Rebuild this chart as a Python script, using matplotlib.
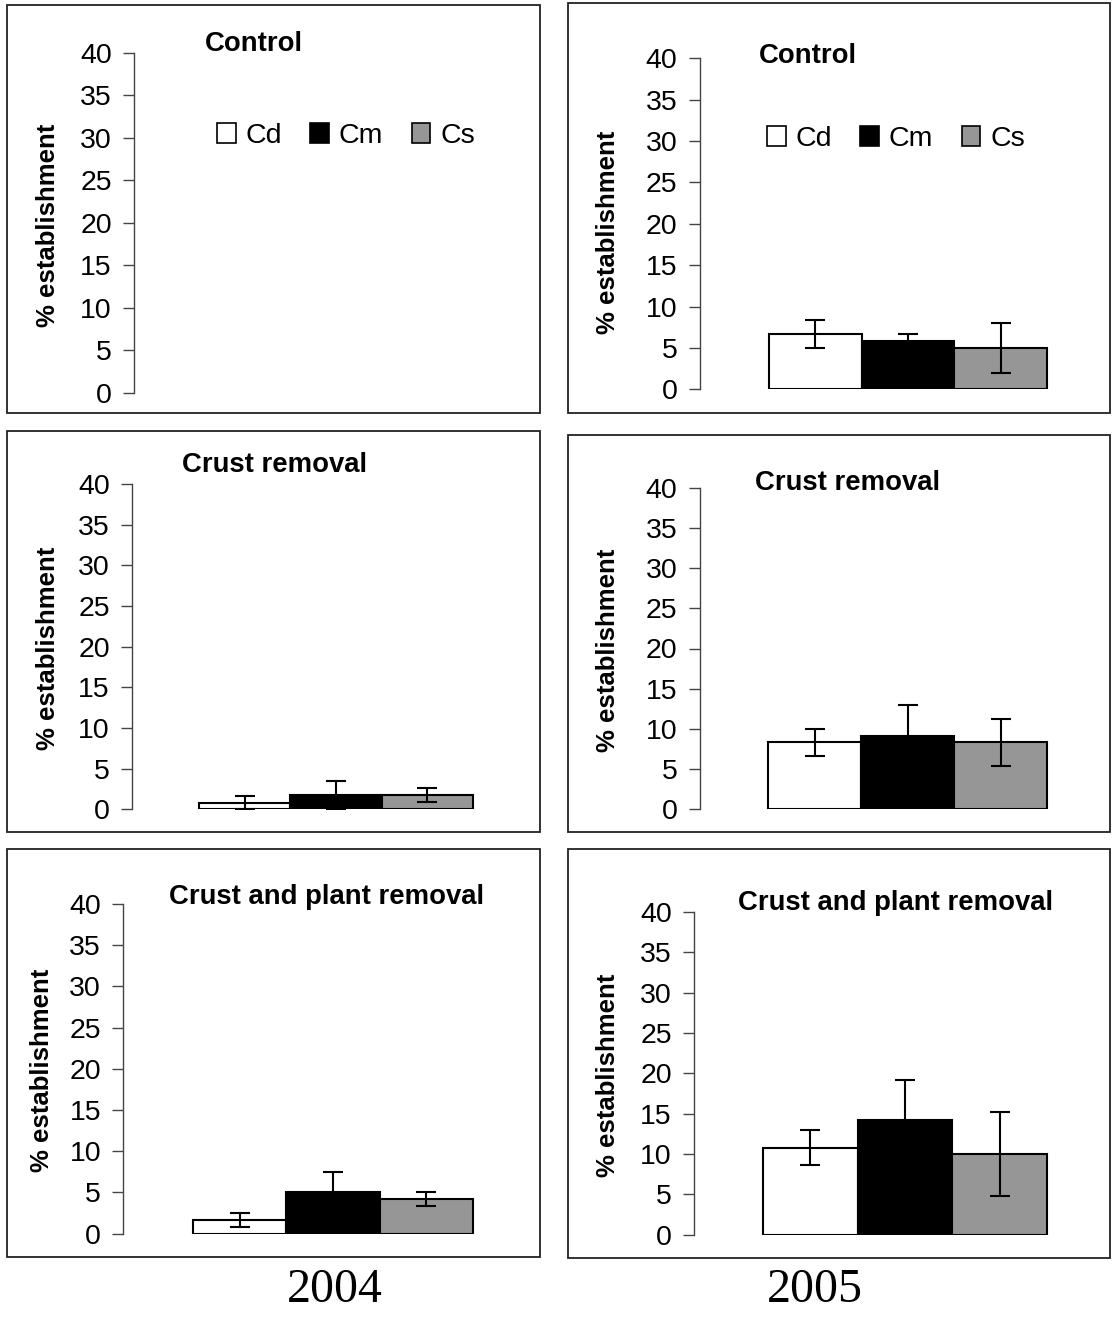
import matplotlib
matplotlib.use("Agg")
import matplotlib.pyplot as plt
from matplotlib.patches import Rectangle, Patch

plt.rcParams["font.family"] = ["Liberation Sans", "DejaVu Sans"]

# data
species = ["Cd", "Cm", "Cs"]
bar_colors = ["white", "black", "#969696"]

ctrl_2004 = []
ctrl_2004_err = []
ctrl_2005 = [6.7, 5.8, 5.0]
ctrl_2005_err = [1.7, 0.9, 3.0]

crust_2004 = [0.83, 1.75, 1.75]
crust_2004_err = [0.83, 1.75, 0.85]
crust_2005 = [8.3, 9.1, 8.3]
crust_2005_err = [1.7, 3.8, 2.9]

plant_2004 = [1.67, 5.0, 4.17]
plant_2004_err = [0.83, 2.5, 0.83]
plant_2005 = [10.8, 14.2, 10.0]
plant_2005_err = [2.2, 5.0, 5.2]

titles = ["Control", "Crust removal", "Crust and plant removal"]
years = ["2004", "2005"]
yticks = [0, 5, 10, 15, 20, 25, 30, 35, 40]

W, H = 1112, 1319
fig = plt.figure(figsize=(W / 100, H / 100), dpi=100)


def fx(px):
    return px / W


def fy(py):
    return 1 - py / H


# layout in pixels: frame box, y-axis x, y of 40 and 0, bar group extent,
# title centre, ylabel centre
panels = [
    dict(vals=ctrl_2004, err=ctrl_2004_err, title=titles[0],
         frame=(7, 5, 540, 413), ax_x=134, y40=52.7, y0=392.7, bars=(199, 473),
         tpos=(254, 44), lpos=(48, 225), legend=(346, 136)),
    dict(vals=ctrl_2005, err=ctrl_2005_err, title=titles[0],
         frame=(568, 3, 1110, 413), ax_x=699.5, y40=58.3, y0=389.3, bars=(769, 1047),
         tpos=(808, 56), lpos=(608, 232), legend=(896, 139)),
    dict(vals=crust_2004, err=crust_2004_err, title=titles[1],
         frame=(7, 431, 540, 832), ax_x=132, y40=484, y0=809.3, bars=(199, 473),
         tpos=(275, 465), lpos=(48, 648), legend=None),
    dict(vals=crust_2005, err=crust_2005_err, title=titles[1],
         frame=(568, 435, 1110, 832), ax_x=699.5, y40=488, y0=809, bars=(768, 1047),
         tpos=(848, 483), lpos=(608, 650), legend=None),
    dict(vals=plant_2004, err=plant_2004_err, title=titles[2],
         frame=(7, 849, 540, 1257), ax_x=123.3, y40=904, y0=1233.7, bars=(193, 473),
         tpos=(327, 897), lpos=(42, 1070), legend=None),
    dict(vals=plant_2005, err=plant_2005_err, title=titles[2],
         frame=(568, 849, 1110, 1258), ax_x=694, y40=912, y0=1234.7, bars=(763, 1047),
         tpos=(896, 903), lpos=(608, 1075), legend=None),
]

for p in panels:
    x0, y0f, x1, y1f = p["frame"]
    fig.add_artist(Rectangle((fx(x0), fy(y1f)), fx(x1 - x0), (y1f - y0f) / H,
                             transform=fig.transFigure, fill=False,
                             edgecolor="#222222", linewidth=1.3))

    ax_right = x1 - 4
    ax = fig.add_axes([fx(p["ax_x"]), fy(p["y0"]), fx(ax_right - p["ax_x"]),
                       (p["y0"] - p["y40"]) / H])
    bl, br = p["bars"]
    unit = (br - bl) / 3
    ax.set_xlim(-0.5 - (bl - p["ax_x"]) / unit, 2.5 + (ax_right - br) / unit)
    ax.set_ylim(0, 40)
    ax.patch.set_alpha(0)

    if p["vals"]:
        xs = range(len(species))
        ax.bar(xs, p["vals"], width=1.0, color=bar_colors, edgecolor="black",
               linewidth=1.5, zorder=2)
        ax.errorbar(xs, p["vals"], yerr=p["err"], fmt="none", ecolor="black",
                    elinewidth=1.5, capsize=7, capthick=1.5, zorder=3)

    for s in ["top", "right", "bottom"]:
        ax.spines[s].set_visible(False)
    ax.spines["left"].set_color("#444444")
    ax.spines["left"].set_linewidth(1.0)
    ax.set_xticks([])
    ax.set_yticks(yticks)
    ax.tick_params(axis="y", direction="out", length=8, width=1.0,
                   color="#444444", labelsize=20.5, pad=8)

    fig.text(fx(p["tpos"][0]), fy(p["tpos"][1]), p["title"], ha="center",
             va="center", fontsize=19.8, fontweight="bold")
    fig.text(fx(p["lpos"][0]), fy(p["lpos"][1]), "% establishment", ha="center",
             va="center", rotation=90, fontsize=18.5, fontweight="bold")

    if p["legend"]:
        handles = [Patch(facecolor=c, edgecolor="black", linewidth=1.2)
                   for c in bar_colors]
        fig.legend(handles, species, loc="center",
                   bbox_to_anchor=(fx(p["legend"][0]), fy(p["legend"][1])),
                   ncol=3, frameon=False, fontsize=20.5, handlelength=0.65,
                   handleheight=0.65, handletextpad=0.35, columnspacing=1.0)

fig.text(fx(335), fy(1290), years[0], ha="center", va="center",
         fontsize=34.5, family="Liberation Serif")
fig.text(fx(815), fy(1290), years[1], ha="center", va="center",
         fontsize=34.5, family="Liberation Serif")

fig.savefig("out.png", dpi=100)
plt.close(fig)
